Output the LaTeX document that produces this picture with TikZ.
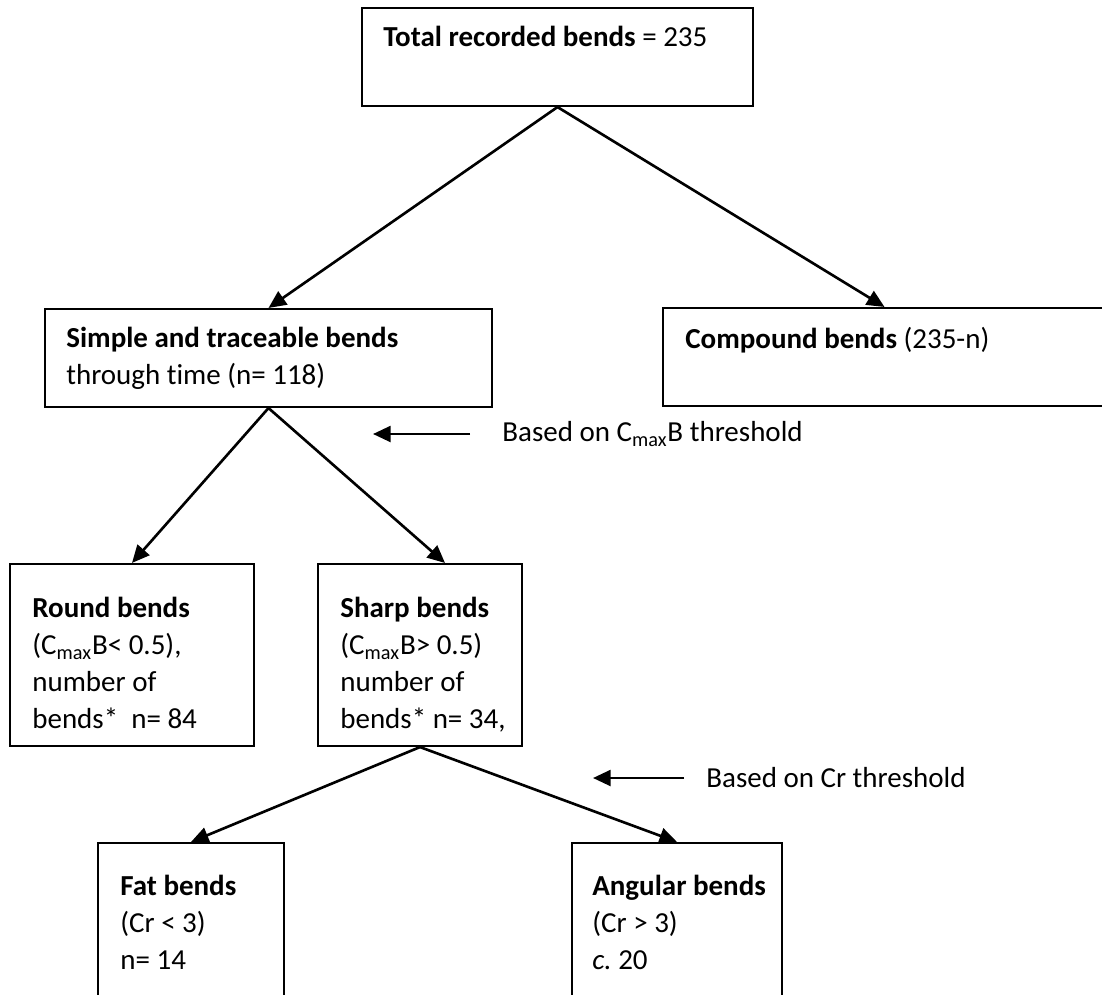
\documentclass[tikz,border=0pt]{standalone}
\usepackage{fontspec}
\setmainfont{Carlito}[Ligatures=CommonOff]
\usetikzlibrary{arrows.meta,positioning,fit}
\tikzset{
  box/.style={draw=black, line width=1.2pt, inner sep=0pt},
  txt/.style={anchor=north west, inner sep=0pt, align=left, font=\fontsize{16.5}{21}\selectfont},
  note/.style={anchor=west, inner sep=0pt, font=\fontsize{16.5}{21}\selectfont},
  conn/.style={-{Triangle[length=10pt,width=9pt]}, line width=1.5pt}
}
\begin{document}
\begin{tikzpicture}[x=0.02cm, y=-0.02cm]
        \useasboundingbox (0,0) rectangle (1102,994);

        \node[box, fit={(362,8) (753,106)}] (total) {};
        \node[box, fit={(45,309) (492,407)}] (simple) {};
        \node[box, fit={(663,308) (1106,406)}] (compound) {};
        \node[box, fit={(10,564) (254,746)}] (round) {};
        \node[box, fit={(318,564) (522,746)}] (sharp) {};
        \node[box, fit={(98,843) (284,1010)}] (fat) {};
        \node[box, fit={(572,843) (782,1010)}] (angular) {};

        \node[txt] (totaltxt) at (383,26) {\textbf{Total recorded bends} = 235};
        \node[txt] (simpletxt) at (66,327) {\textbf{Simple and traceable bends}\\through time (n= 118)};
        \node[txt] (compoundtxt) at (685,327) {\textbf{Compound bends} (235-n)};
        \node[txt] (roundtxt) at (32,597) {\textbf{Round bends}\\(C\textsubscript{max}B< 0.5),\\number of\\bends*~~n= 84};
        \node[txt] (sharptxt) at (340,597) {\textbf{Sharp bends}\\(C\textsubscript{max}B> 0.5)\\number of\\bends* n= 34,};
        \node[txt] (fattxt) at (120,875) {\textbf{Fat bends}\\(Cr < 3)\\n= 14};
        \node[txt] (angulartxt) at (592,875) {\textbf{Angular bends}\\(Cr > 3)\\\textit{c.}\ 20};

        \draw[conn] (total.south) -- (simple.north);
        \draw[conn] (total.south) -- (compound.north);
        \draw[conn] (simple.south) -- (round.north);
        \draw[conn] (simple.south) -- ([xshift=0.5cm]sharp.north);
        \draw[conn] (sharp.south) -- (fat.north);
        \draw[conn] (sharp.south) -- (angular.north);

        \node[note] (cmaxnote) at (502,434) {Based on C\textsubscript{max}B threshold};
        \coordinate (cmaxtail) at (470,434);
        \coordinate (cmaxtip) at (373,434);
        \draw[conn] (cmaxtail) -- (cmaxtip);

        \node[note] (crnote) at (706,778) {Based on Cr threshold};
        \coordinate (crtail) at (684,778);
        \coordinate (crtip) at (593,778);
        \draw[conn] (crtail) -- (crtip);
      \end{tikzpicture}
\end{document}
